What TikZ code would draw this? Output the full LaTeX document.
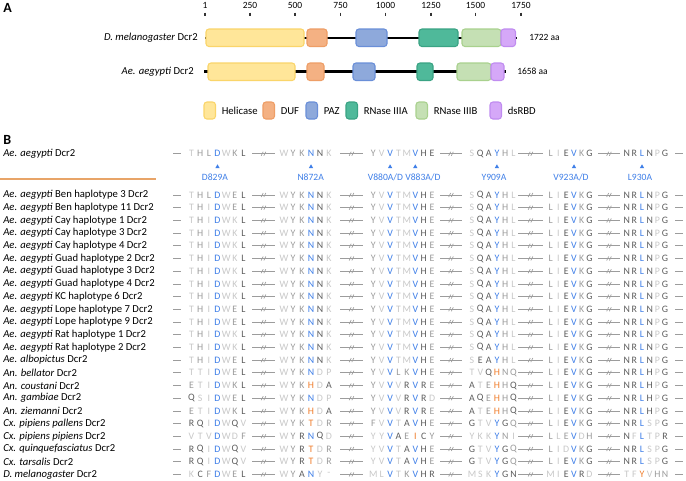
\documentclass[tikz,border=0pt]{standalone}
\usepackage{fontspec}
\setmainfont{Carlito}
\definecolor{ca}{HTML}{C8C8C8}
\definecolor{cb}{HTML}{9C9C9C}
\definecolor{cc}{HTML}{5E5E5E}
\definecolor{cu}{HTML}{3F7FE8}
\definecolor{co}{HTML}{F07F2E}
\definecolor{helF}{HTML}{FFE699}\definecolor{helD}{HTML}{FAD56A}
\definecolor{dufF}{HTML}{F4B183}\definecolor{dufD}{HTML}{EE9E66}
\definecolor{pazF}{HTML}{8EA9DB}\definecolor{pazD}{HTML}{6A8FD8}
\definecolor{r3aF}{HTML}{4FB99A}\definecolor{r3aD}{HTML}{3AA384}
\definecolor{r3bF}{HTML}{C5E0B4}\definecolor{r3bD}{HTML}{A9D18E}
\definecolor{dsF}{HTML}{D5A8F8}\definecolor{dsD}{HTML}{C08CF0}
\definecolor{orline}{HTML}{E8A468}
\tikzset{
 res/.style={inner sep=0pt,anchor=center,font=\fontsize{7.4}{8}\selectfont},
 lab/.style={inner sep=0pt,anchor=west,font=\fontsize{8}{9}\selectfont},
 rlab/.style={inner sep=0pt,anchor=east,font=\fontsize{8}{9}\selectfont},
 small/.style={inner sep=0pt,font=\fontsize{7.1}{8}\selectfont},
 mut/.style={inner sep=0pt,anchor=center,text=cu,font=\fontsize{7.2}{8}\selectfont},
 sepline/.style={draw=cb,line width=0.5pt},
 dom/.style={rounded corners=2.2,line width=0.8pt},
}
\newcommand\blk[4]{\edef\tmplist{#4}\foreach \s/\c [count=\i from 0] in \tmplist {\node[res,text=c\s] at ({#1+#2*\i},#3) {\c};}}
\newcommand\brk[3]{\draw[sepline] (#1,#3)--(#2,#3);
 \draw[sepline] ({(#1+#2)/2-2.3},#3+2)--({(#1+#2)/2-0.3},#3-2) ({(#1+#2)/2+0.3},#3+2)--({(#1+#2)/2+2.3},#3-2);}
\newcommand\seps[1]{\draw[sepline] (173,#1)--(181,#1); \draw[sepline] (675,#1)--(683,#1);
 \brk{252}{275}{#1}\brk{340}{363}{#1}\brk{440}{462}{#1}\brk{518}{543}{#1}\brk{598}{620}{#1}}
\newcommand\arow[7]{\seps{#1}%
 \blk{191.5}{8.67}{#1}{#2}\blk{284}{9}{#1}{#3}\blk{373.3}{8.4}{#1}{#4}%
 \blk{472}{8.3}{#1}{#5}\blk{550.7}{7.75}{#1}{#6}\blk{626.7}{7.66}{#1}{#7}}
\begin{document}
\begin{tikzpicture}[x=0.75pt,y=-0.75pt]
\useasboundingbox (0,0) rectangle (686,480);
\fill[white] (0,0) rectangle (686,480);
% ---------- Panel A
\node[inner sep=0pt,anchor=west,font=\fontsize{10.5}{12}\selectfont\bfseries] (pA) at (3,8) {A};
\foreach \x/\t in {205/1,250/250,295/500,340.5/750,385.5/1000,431/1250,475.5/1500,521/1750}{
 \node[small] at (\x,5) {\t};
 \draw[line width=0.8pt,black!80] (\x,12.5)--(\x,16);}
% D. melanogaster
\node[rlab] (dm) at (198,37.7) {\textit{D. melanogaster} Dcr2};
\draw[line width=1.6pt] (205,37.7)--(517,37.7);
\draw[dom,fill=helF,draw=helD] (206,29) rectangle (304,46.5);
\draw[dom,fill=dufF,draw=dufD] (307,29) rectangle (327,46.5);
\draw[dom,fill=pazF,draw=pazD] (356,29) rectangle (387,46.5);
\draw[dom,fill=r3aF,draw=r3aD] (419,29) rectangle (458,46.5);
\draw[dom,fill=r3bF,draw=r3bD] (462,29) rectangle (501,46.5);
\draw[dom,fill=dsF,draw=dsD] (501,29) rectangle (515.5,46.5);
\node[small,anchor=west] (dml) at (529,37.7) {1722 aa};
% Ae. aegypti
\node[rlab] (ae) at (194,71.5) {\textit{Ae. aegypti} Dcr2};
\draw[line width=1.6pt] (204,71.5)--(506,71.5);
\draw[dom,fill=helF,draw=helD] (208,63) rectangle (295,80.5);
\draw[dom,fill=dufF,draw=dufD] (307,63) rectangle (324,80.5);
\draw[dom,fill=pazF,draw=pazD] (353,63) rectangle (375,80.5);
\draw[dom,fill=r3aF,draw=r3aD] (417,63) rectangle (433,80.5);
\draw[dom,fill=r3bF,draw=r3bD] (457,63) rectangle (491,80.5);
\draw[dom,fill=dsF,draw=dsD] (491,63) rectangle (504,80.5);
\node[small,anchor=west] (ael) at (517,71.5) {1658 aa};
% legend
\foreach \x/\f/\d/\t in {204/helF/helD/Helicase,263/dufF/dufD/DUF,306/pazF/pazD/PAZ,346/r3aF/r3aD/RNase IIIA,416/r3bF/r3bD/RNase IIIB,490/dsF/dsD/dsRBD}{
 \draw[dom,fill=\f,draw=\d] (\x,102) rectangle (\x+11.5,119);
 \node[lab] at (\x+17.5,111) {\t};}
% ---------- Panel B
\node[inner sep=0pt,anchor=west,font=\fontsize{10.5}{12}\selectfont\bfseries] (pB) at (3,140.3) {B};
\node[lab] (ref) at (3,154) {\textit{Ae. aegypti} Dcr2};
\draw[orline,line width=0.8pt] (0,179) -- (156,179);
\arow{153.8}{a/T,b/H,b/L,u/D,a/W,b/K,c/L}{a/W,b/Y,b/K,u/N,c/N,a/K}{b/Y,a/V,u/V,a/T,a/M,u/V,c/H,c/E}{a/S,c/Q,c/A,u/Y,b/H,a/L}{b/L,a/I,c/E,u/V,b/K,c/G}{c/N,c/R,u/L,c/N,a/P,c/G}
\foreach \x in {217.5,311,390.1,415.3,496.9,574,642}{\fill[cu] (\x-2.1,168)--(\x+2.1,168)--(\x,164.3)--cycle;}
\node[mut] at (215,177) {D829A};
\node[mut] at (310.7,177) {N872A};
\node[mut] at (385.5,177) {V880A/D};
\node[mut] at (423,177) {V883A/D};
\node[mut] at (494,177) {Y909A};
\node[mut] at (571,177) {V923A/D};
\node[mut] at (640,177) {L930A};
% row labels
\foreach \t [count=\i from 0] in {Ben haplotype 3,Ben haplotype 11,Cay haplotype 1,Cay haplotype 3,Cay haplotype 4,Guad haplotype 2,Guad haplotype 3,Guad haplotype 4,KC haplotype 6,Lope haplotype 7,Lope haplotype 9,Rat haplotype 1,Rat haplotype 2}{
 \node[lab] at (3,195+12.7*\i) {\textit{Ae. aegypti} \t{} Dcr2};}
\node[lab] at (3,360.1) {\textit{Ae. albopictus} Dcr2};
\node[lab] at (3,372.8) {\textit{An. bellator} Dcr2};
\node[lab] at (3,385.5) {\textit{An. coustani} Dcr2};
\node[lab] at (3,398.2) {\textit{An. gambiae} Dcr2};
\node[lab] at (3,410.9) {\textit{An. ziemanni} Dcr2};
\node[lab] at (3,423.6) {\textit{Cx. pipiens pallens} Dcr2};
\node[lab] at (3,436.3) {\textit{Cx. pipiens pipiens} Dcr2};
\node[lab] at (3,449) {\textit{Cx. quinquefasciatus} Dcr2};
\node[lab] at (3,461.7) {\textit{Cx. tarsalis} Dcr2};
\node[lab] at (3,474.4) {\textit{D. melanogaster} Dcr2};
% alignment rows
\def\bB{a/W,b/Y,b/K,u/N,c/N,a/K}
\def\bC{b/Y,a/V,u/V,a/T,a/M,u/V,c/H,b/E}
\def\bD{a/S,c/Q,c/A,u/Y,b/H,a/L}
\def\bE{b/L,a/I,c/E,u/V,b/K,c/G}
\def\bF{c/N,c/R,u/L,c/N,a/P,c/G}
\def\hK{a/T,b/H,a/I,u/D,a/W,a/K,c/L}
\def\hE{a/T,b/H,a/I,u/D,a/W,b/E,c/L}
\arow{195}{a/T,b/H,b/L,u/D,a/W,b/E,c/L}\bB\bC\bD\bE\bF
\arow{207.7}\hE\bB\bC\bD\bE\bF
\arow{220.4}\hK\bB\bC\bD\bE\bF
\arow{233.1}\hK\bB\bC\bD\bE\bF
\arow{245.8}\hK\bB\bC\bD\bE\bF
\arow{258.5}\hK\bB\bC\bD\bE\bF
\arow{271.2}\hK\bB\bC\bD\bE\bF
\arow{283.9}\hK\bB\bC\bD\bE\bF
\arow{296.6}\hK\bB\bC\bD\bE\bF
\arow{309.3}\hE\bB\bC\bD\bE\bF
\arow{322}\hE\bB\bC\bD\bE\bF
\arow{334.7}\hK\bB\bC\bD\bE\bF
\arow{347.4}\hK\bB\bC\bD\bE\bF
\arow{360.1}\hE\bB\bC{a/S,c/E,c/A,u/Y,b/H,a/L}\bE\bF
\arow{372.8}{a/T,a/T,a/I,u/D,a/W,b/E,c/L}{a/W,b/Y,b/K,u/N,a/D,a/P}{b/Y,a/V,u/V,b/L,b/K,u/V,c/H,b/E}{a/T,a/V,c/Q,o/H,b/N,b/Q}\bE{c/N,c/R,u/L,c/H,a/P,c/G}
\arow{385.5}{b/E,a/T,a/I,u/D,a/W,b/K,c/L}{a/W,b/Y,b/K,o/H,a/D,c/A}{b/Y,a/V,u/V,a/V,c/R,u/V,c/R,b/E}{c/A,a/T,b/E,o/H,b/H,c/Q}\bE{c/N,c/R,u/L,c/H,a/P,c/G}
\arow{398.2}{c/Q,a/S,a/I,u/D,a/W,b/E,c/L}{a/W,b/Y,b/K,u/N,a/D,a/P}{b/Y,a/V,u/V,a/V,c/R,u/V,c/R,a/D}{c/A,c/Q,b/E,o/H,b/H,c/Q}\bE{c/N,c/R,u/L,c/H,a/P,c/G}
\arow{410.9}{b/E,a/T,a/I,u/D,a/W,b/K,c/L}{a/W,b/Y,b/K,o/H,a/D,c/A}{b/Y,a/V,u/V,a/V,c/R,u/V,c/R,b/E}{c/A,a/T,b/E,o/H,b/H,c/Q}\bE{c/N,c/R,u/L,c/H,a/P,c/G}
\arow{423.6}{c/R,c/Q,a/I,u/D,a/W,c/Q,a/V}{a/W,b/Y,b/K,o/T,a/D,b/R}{b/F,a/V,u/V,a/T,c/A,u/V,c/H,b/E}{c/G,a/T,a/V,u/Y,c/G,b/Q}\bE{c/N,c/R,u/L,a/S,a/P,c/G}
\arow{436.3}{a/V,a/T,a/V,u/D,a/W,a/D,b/F}{a/W,b/Y,c/R,u/N,c/Q,a/D}{a/Y,a/Y,u/V,c/A,b/E,o/I,c/C,b/Y}{a/Y,a/K,a/K,u/Y,b/N,a/I}{b/L,a/L,b/E,u/V,a/D,b/H}{c/N,a/F,u/L,a/T,a/P,c/R}
\arow{449}{c/R,c/Q,a/I,u/D,a/W,c/Q,a/V}{a/W,b/Y,c/R,o/T,a/D,b/R}{a/Y,a/V,u/V,a/T,c/A,u/V,c/H,b/E}{c/G,a/T,a/V,u/Y,c/G,b/Q}{b/L,a/I,a/D,u/V,b/K,c/G}{c/N,c/R,u/L,a/S,a/P,c/G}
\arow{461.7}{c/R,c/Q,a/I,u/D,a/W,c/Q,a/V}{a/W,b/Y,c/R,o/T,a/D,b/R}{a/Y,a/V,u/V,a/T,c/A,u/V,c/H,b/E}{c/G,a/T,a/V,u/Y,c/G,b/Q}\bE{c/N,c/R,u/L,a/S,a/P,c/G}
\arow{474.4}{a/K,c/C,b/F,u/D,a/W,b/E,c/L}{a/W,b/Y,c/A,u/N,a/Y,a/-}{a/M,a/L,u/V,a/T,b/K,u/V,c/H,c/R}{a/M,a/S,a/K,u/Y,c/G,c/N}{a/M,a/I,c/E,u/V,c/R,a/D}{a/T,a/F,o/Y,a/V,b/H,b/N}
\end{tikzpicture}
\end{document}
